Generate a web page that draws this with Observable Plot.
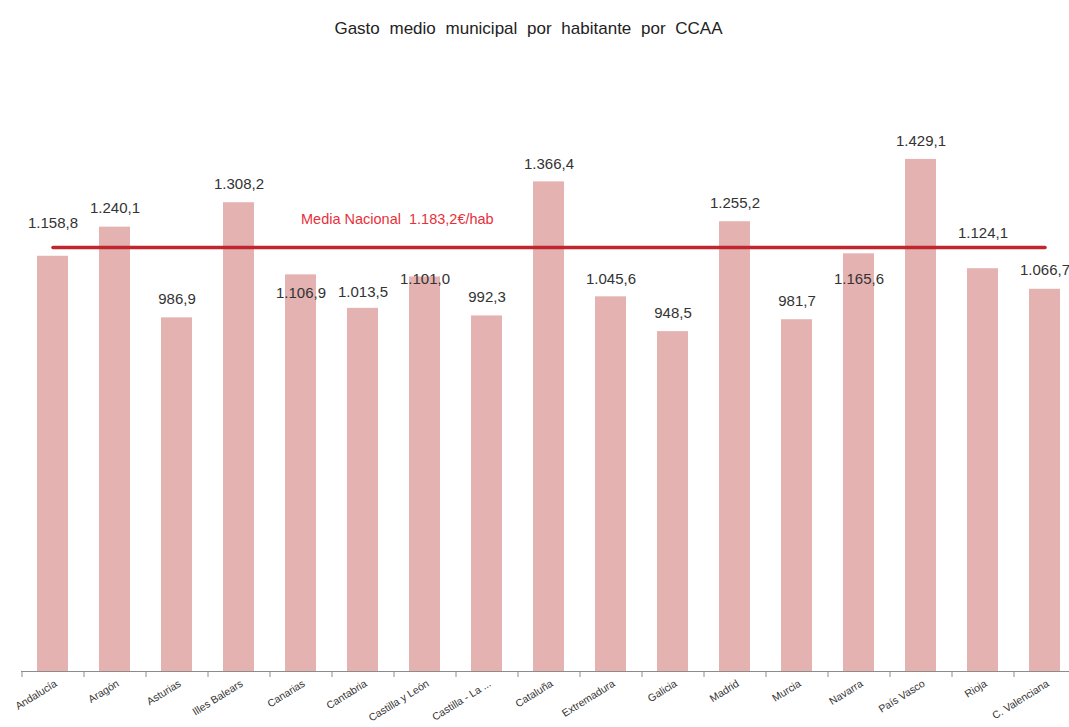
<!DOCTYPE html>
<html>
<head>
<meta charset="utf-8">
<script src="https://cdn.jsdelivr.net/npm/d3@7"></script>
<script src="https://cdn.jsdelivr.net/npm/@observablehq/plot@0.6"></script>
<style>
  html, body { margin: 0; padding: 0; background: #fff; overflow: hidden; }
  #title { height: 55px; box-sizing: border-box; padding-top: 19px; text-align: center;
           font-family: "Liberation Sans", Arial, sans-serif; font-size: 17px; word-spacing: 5px;
           color: #222; line-height: 20px; margin-left: -12px; }
  svg text { white-space: pre; }
</style>
</head>
<body>
<div id="title">Gasto medio municipal por habitante por CCAA</div>
<div id="chart"></div>
<script>
// ---- data ----
const categories = ["Andalucía", "Aragón", "Asturias", "Illes Balears", "Canarias", "Cantabria",
  "Castilla y León", "Castilla - La ...", "Cataluña", "Extremadura", "Galicia", "Madrid",
  "Murcia", "Navarra", "País Vasco", "Rioja", "C. Valenciana"];
const values = [1158.8, 1240.1, 986.9, 1308.2, 1106.9, 1013.5, 1101.0, 992.3, 1366.4, 1045.6,
  948.5, 1255.2, 981.7, 1165.6, 1429.1, 1124.1, 1066.7];
const nationalMean = 1183.2;
const meanLabel = "Media Nacional  1.183,2€/hab";

// label placement (pixel nudges, kept apart from the data)
const labelDy = [-33, -19, -19, -19, 18, -16, 2, -19, -18, -18, -18, -19, -19, 25, -18, -36, -19];

const esFormat = d3.formatLocale({decimal: ",", thousands: ".", grouping: [3], currency: ["", "€"]}).format(",.1f");

const rows = categories.map((c, i) => ({c, v: values[i], dy: labelDy[i]}));
const dyGroups = Array.from(new Set(labelDy));

const marks = [
  Plot.barY(rows, {x: "c", y: "v", fill: "#e5b2b2"}),
  Plot.ruleY([0], {stroke: "#8c8c8c", strokeWidth: 1}),
  Plot.axisX({tickSize: 6, tickFormat: () => "", label: null, dx: -31, stroke: "#8c8c8c"}),
  Plot.axisX({tickSize: 0, tickPadding: 11, tickRotate: -32, label: null, fontSize: 10.5, fill: "#333", dx: 3}),
  Plot.line([{c: categories[0], v: nationalMean}, {c: categories[categories.length - 1], v: nationalMean}],
    {x: "c", y: "v", stroke: "#c0262e", strokeWidth: 3.5}),
  Plot.text([meanLabel], {x: () => categories[4], y: () => nationalMean, text: d => d,
    textAnchor: "start", dy: -28, fill: "#e8303a", fontSize: 14.5}),
  ...dyGroups.map(dy => Plot.text(rows.filter(r => r.dy === dy),
    {x: "c", y: "v", text: d => esFormat(d.v), dy, fill: "#333", fontSize: 15}))
];

const chart = Plot.plot({
  width: 1069,
  height: 672,
  marginLeft: 21,
  marginRight: -6,
  marginTop: 78.5,
  marginBottom: 56,
  x: {domain: categories, paddingInner: 0.5, paddingOuter: 0.25, axis: null, label: null},
  y: {domain: [0, 1500], axis: null},
  style: {fontFamily: "'Liberation Sans', Arial, sans-serif", background: "white", color: "#333"},
  marks
});
document.getElementById("chart").appendChild(chart);
</script>
</body>
</html>
